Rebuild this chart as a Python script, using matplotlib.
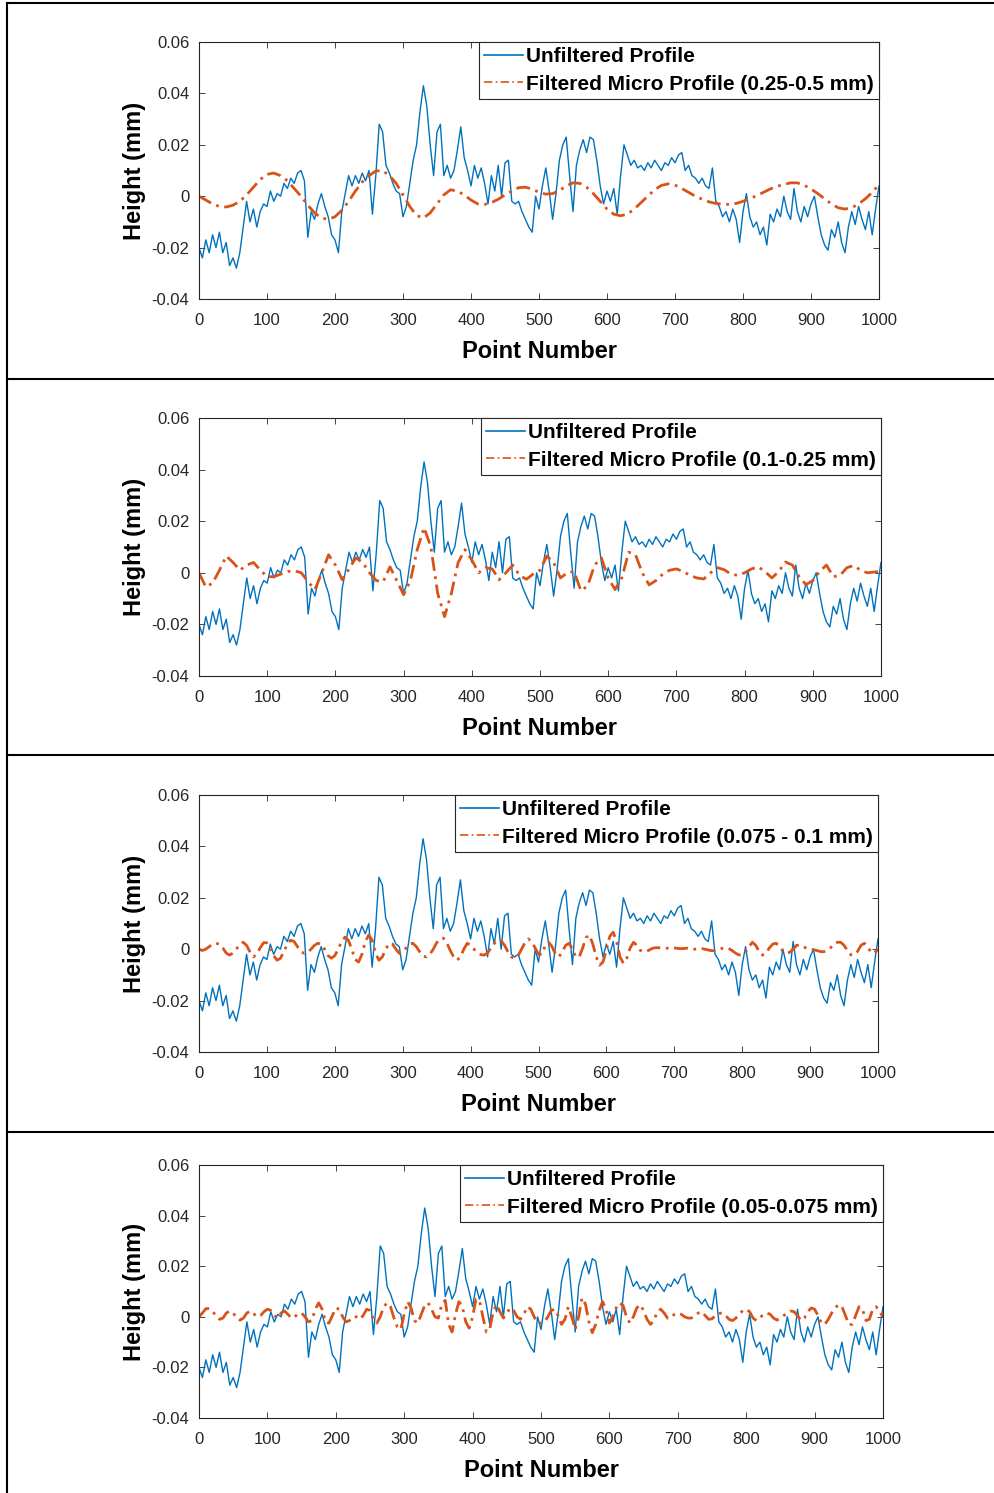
import matplotlib
matplotlib.use('Agg')
import matplotlib.pyplot as plt
from matplotlib.lines import Line2D
import numpy as np

plt.rcParams['font.family'] = ['Liberation Sans', 'DejaVu Sans']

# Unfiltered surface profile, height in micrometres, one value every 5 points (0..1000).
unfiltered_um = [
    -20, -24, -17, -22, -15, -20, -14, -22, -18, -27, -24, -28, -22, -12, -2, -10, -5, -12, -6, -3,
    -4, 2, -2, 1, 0, 5, 3, 7, 5, 9, 10, 6, -16, -6, -9, -3, 1, -4, -8, -15,
    -17, -22, -6, 1, 8, 4, 8, 5, 9, 6, 10, -7, 8, 28, 25, 12, 9, 5, 2, 1,
    -8, -4, 5, 14, 20, 33, 43, 35, 20, 8, 25, 28, 8, 12, 7, 10, 18, 27, 15, 10,
    4, 12, 7, 11, 5, -3, 8, 2, 12, 0, 13, 14, -2, -3, -2, -6, -9, -12, -14, 0,
    -5, 4, 11, 2, -9, 1, 14, 20, 23, 8, -6, 12, 18, 22, 17, 23, 22, 14, 4, -3,
    2, -2, 3, -7, 8, 20, 16, 12, 14, 11, 12, 10, 13, 11, 14, 12, 10, 13, 12, 15,
    13, 16, 17, 10, 12, 8, 7, 5, 7, 4, 3, 11, -2, -4, -8, -6, -10, -5, -9, -18,
    -6, 1, -8, -12, -10, -15, -12, -19, -7, -10, -5, -8, 0, -6, -9, 3, -6, -10, -4, -8,
    -3, 0, -8, -15, -19, -21, -13, -16, -10, -18, -22, -12, -6, -11, -4, -9, -13, -6, -15, -5,
    4,
]

# Filtered micro profile 0.25-0.5 mm, micrometres every 10 points
band1_um = [
    0, -1.5, -3, -4, -4.2, -3.5, -2, 0.5, 3.5, 6.5, 8.5, 9, 8, 6, 3, 0, -3.5, -6.5, -8.5, -9,
    -8, -5.5, -2, 2, 5.5, 8, 9.8, 10, 8, 5, 0.5, -4, -7.5, -8.5, -6.5, -3, 0.5, 2.5, 2, 0.5,
    -1.5, -3, -3.2, -2.5, -1.2, 0.5, 2, 3.3, 3.5, 2.8, 1.5, 0.8, 1, 2.2, 4, 5.2, 5, 3.5, 1, -2,
    -5, -7, -7.6, -7, -5, -2.5, 0, 2.5, 4.2, 4.8, 4.3, 3, 1.5, 0, -1.2, -2.2, -2.8, -3.1, -3.2, -2.8,
    -2, -1, 0.2, 1.5, 2.8, 3.8, 4.6, 5.2, 5.2, 4.3, 2.8, 1, -1, -3, -4.5, -5, -4.5, -3, -1, 1.5,
    4.5,
]

# Filtered micro profile 0.1-0.25 mm, micrometres every 10 points
band2_um = [
    0, -5.5, -4, 1, 6.5, 4, 1, 3, 4, 1, -1.5, -1.5, -0.5, 0.5, 0.8, 0, -3.5, -6.5, 0, 7,
    3, -2.7, 1.5, 5.8, 4, 0, -3, -3.5, 2.3, -3, -8.5, -3, 9, 17.5, 10, -8, -17, -8, 4, 9,
    5, 0, 2, 1.5, -2.7, 0, 3, -1, -2.5, -0.5, 1, 6.5, 4, -2, 0, 0.5, -7, -5, 3, 5.8,
    -2, -6.5, -2, 8, 7, 0, -4.7, -3, -0.5, 1, 1.5, 0.5, -1, -2, -2.4, 0, 2, 1.2, -0.5, -1,
    0, 1.5, 2.3, 0.5, -2, 0.5, 4.2, 3, -1.5, -4.6, -3, 0.5, 3, -1.5, -1, 2, 2.8, 1, 0, 0.3,
    0.5,
]

# Filtered micro profile 0.075-0.1 mm, micrometres every 5 points
band3_um = [
    0, -0.5, 0, 1, 2, 2.3, 2, 0.5, -1.5, -2.3, -1.5, 0, 2, 2.7, 1.5, -1, -3, -2, 0.5, 2.5,
    2.5, 0.5, -2.5, -4.3, -3.5, -1, 2, 3.5, 3, 1, -1, -1.6, -1.2, 0, 1.5, 2.3, 2, 0, -2.5, -3.5,
    -2.5, 0, 3, 4.7, 3.5, 0, -4, -5, -2, 3, 5.5, 3.5, -1.5, -4.3, -3, 0, 2.3, 2, 0, -1.6,
    -1.2, 0.5, 2, 2.3, 1, -1, -2.7, -3, -2, 0, 2.5, 4, 4.3, 2.5, -0.5, -3, -4.3, -3, 0, 2.3,
    1.5, 0, -1.2, -2.1, -2.3, -1.5, 0.5, 2.3, 3.5, 3.3, 1.5, -1, -3, -3.5, -2.5, 0, 2.5, 4, 3, 0.5,
    -2, -2, 1.5, 2.7, 1, -2, -3, -1, 1.5, 2.3, 0, -3, -3, 0.5, 4.5, 5.5, 2, -3, -6.2, -5,
    0, 5, 6.6, 3, -3, -5.5, -3.5, 0.5, 2.7, 1.5, -0.5, -1, -0.8, 0, 0.5, 0.6, 0.5, 0.3, 0.4, 0.6,
    0.5, 0.3, 0.2, 0.3, 0.4, 0.2, 0, 0.2, 0.3, 0, -0.3, -0.6, -0.5, -0.2, 0.3, 0.6, 0.3, -0.5, -1.5, -2.2,
    -2.3, -1, 1, 2.7, 1.5, -1, -2.3, -1.5, 0.5, 2, 2.3, 1, -0.8, -1.6, -1.2, 0, 1.5, 1.6, 1, 0.3,
    0, -0.2, -0.5, -0.9, -1, -0.5, 0.5, 2, 2.7, 2.7, 1.5, -0.5, -2.2, -2.2, -0.8, 1.5, 2.3, 1, -1.5, -1.3,
    0,
]

# Filtered micro profile 0.05-0.075 mm, micrometres every 5 points
band4_um = [
    0, 1.5, 3.2, 3.3, 2, 0.5, -1, -0.5, 1.5, 2.3, 1.5, -0.5, -1.3, -0.5, 1.5, 2.3, 1.2, 0, 0.5, 2,
    3, 2.5, 0.5, -0.5, 1.5, 2.3, 1, -0.5, 0, 1.2, 1.5, 0, -2, -1.5, 3, 5.5, 3, -2, -2.5, 0.5,
    3.5, 3, 0, -2, -1.5, 0, 0, -1, 0.5, 3, 2.5, -1, -2.5, 0, 4, 5.5, 4, -0.5, -4, -5,
    1, 6, 3.5, -1.5, -2.5, 1, 4.5, 5.5, 3, 0, -0.5, 5, 6.5, -3, -6, 1, 6, 4, -2, -4.5,
    0, 7, 6.5, 0, -6, -5, 2, 4.8, 2, -0.5, 1.5, 3.5, 2.5, 0, -1, 1, 4, 3, 0, -2.5,
    -2.5, -2, 0, 2.5, 3, 0.5, -3, -1, 4, 0, -5, 0, 7.5, 5, -2, -6.3, -3, 2.5, 6, 3,
    -2.5, 0, 3.5, 5.5, 4.5, 0, -2.5, 0, 3.5, 4.8, 2.5, -1, -3, -1.5, 2, 3, 1.5, -0.5, -0.5, 1,
    1.5, 1, 0, -0.5, -0.5, 0.5, 1.5, 2, 0.5, -1, -0.8, 0.5, 1.3, 1.5, 0.5, -1, -1.5, -0.5, 1, 2.5,
    3, 2, -0.5, -1.5, -0.5, 1, 1.5, 1, -0.5, -1.3, -0.5, 0.5, 1.5, 2.3, 2, 0.5, -1.5, -0.5, 2, 3.5,
    3, 0.5, -2.5, -3, -1, 1.5, 3.5, 4.8, 4, 0.5, -3, -3, 0.5, 4, 3, -1.5, -1, 3, 4, 2,
    0,
]

band_labels = [
    'Filtered Micro Profile (0.25-0.5 mm)',
    'Filtered Micro Profile (0.1-0.25 mm)',
    'Filtered Micro Profile (0.075 - 0.1 mm)',
    'Filtered Micro Profile (0.05-0.075 mm)',
]
band_data = [band1_um, band2_um, band3_um, band4_um]

xticks = list(range(0, 1001, 100))
yticks = [-0.04, -0.02, 0, 0.02, 0.04, 0.06]
ytick_labels = ['-0.04', '-0.02', '0', '0.02', '0.04', '0.06']

blue = '#0072BD'
orange = '#D95319'
axis_grey = '#262626'

W, H = 994, 1493
fig = plt.figure(figsize=(W / 100, H / 100), dpi=100)

# axes boxes in pixels: left, right, top, bottom
boxes = [(199, 879, 42, 299), (199, 881, 418, 676), (199, 878, 795, 1052), (199, 883, 1165, 1418)]

unf = np.array(unfiltered_um) / 1000.0
x_unf = np.linspace(0, 1000, len(unf))

for k in range(4):
    l, r, t, b = boxes[k]
    ax = fig.add_axes([l / W, 1 - b / H, (r - l) / W, (b - t) / H])
    band = np.array(band_data[k]) / 1000.0
    x_band = np.linspace(0, 1000, len(band))
    ax.plot(x_unf, unf, color=blue, lw=1.0, label='Unfiltered Profile')
    ax.plot(x_band, band, color=orange, lw=2.0, ls=(0, (5, 2, 1, 2)), label=band_labels[k])

    ax.set_xlim(0, 1000)
    ax.set_ylim(-0.04, 0.06)
    ax.set_xticks(xticks)
    ax.set_yticks(yticks)
    ax.set_yticklabels(ytick_labels)
    ax.tick_params(direction='in', length=4, width=0.6, top=True, right=True,
                   labelsize=12, colors=axis_grey)
    ax.tick_params(axis='x', pad=10)
    ax.tick_params(axis='y', pad=7)
    for s in ax.spines.values():
        s.set_color(axis_grey)
        s.set_linewidth(0.8)
    ax.set_xlabel('Point Number', fontsize=17, fontweight='bold', labelpad=9)
    ax.set_ylabel('Height (mm)', fontsize=17, fontweight='bold', labelpad=4)

    leg = ax.legend(loc='upper right', borderaxespad=0, prop={'weight': 'bold', 'size': 15},
                    handlelength=1.85, handletextpad=0.15, borderpad=0.25, labelspacing=0.4,
                    fancybox=False, framealpha=1)
    leg.get_frame().set_edgecolor(axis_grey)
    leg.get_frame().set_linewidth(0.8)
    for line in leg.get_lines():
        line.set_linewidth(1.2)

# table-like panel borders
for y in [3, 379, 755, 1132]:
    fig.add_artist(Line2D([7 / W, 1], [1 - y / H, 1 - y / H], color='black', lw=1.5, transform=fig.transFigure))
fig.add_artist(Line2D([7 / W, 7 / W], [0, 1 - 3 / H], color='black', lw=1.5, transform=fig.transFigure))

fig.savefig('out.png', dpi=100)
